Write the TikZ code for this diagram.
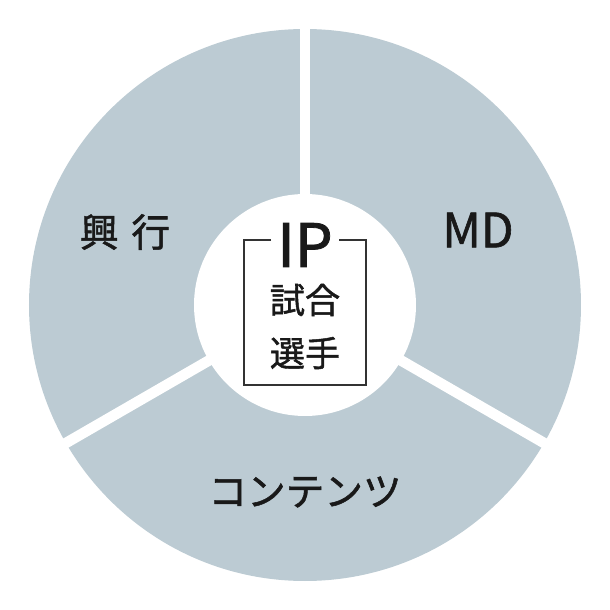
\documentclass[tikz,border=0pt]{standalone}
\usepackage{fontspec}
\setmainfont[FakeBold=1.3]{Noto Sans CJK JP}
\tikzset{
  sector/.style={fill=pie},
  gapline/.style={white,line width=6pt},
  label/.style={font=\fontsize{22}{22}\selectfont,text=black!90},
}
\definecolor{pie}{HTML}{BCCBD3}
\begin{document}
\begin{tikzpicture}[x=0.02cm,y=0.02cm]
\useasboundingbox (0,0) rectangle (610,610);
% outer disc and gaps
\coordinate (c) at (305,305);
\fill[pie] (c) circle (276);
\foreach \a in {90,210,330}
  \draw[gapline] (c) -- ++(\a:280);
\fill[white] (c) circle (111);
% sector labels
\node[label] (kogyo) at (125,378) {興\,\,行};
\node[label,font=\fontsize{27}{27}\selectfont] (md) at (478,380) {MD};
\node[label] (contents) at (305,118) {コンテンツ};
% centre box
\node[label,font=\fontsize{34}{34}\selectfont] (ip) at (305,365) {IP};
\node[label,font=\fontsize{20}{20}\selectfont] (shiai) at (305,310) {試合};
\node[label,font=\fontsize{20}{20}\selectfont] (senshu) at (305,257) {選手};
\draw[black!80,line width=0.6pt] (ip.west|-0,370) -- (244,370) -- (244,225) -- (366,225) -- (366,370) -- (ip.east|-0,370);
\end{tikzpicture}
\end{document}
